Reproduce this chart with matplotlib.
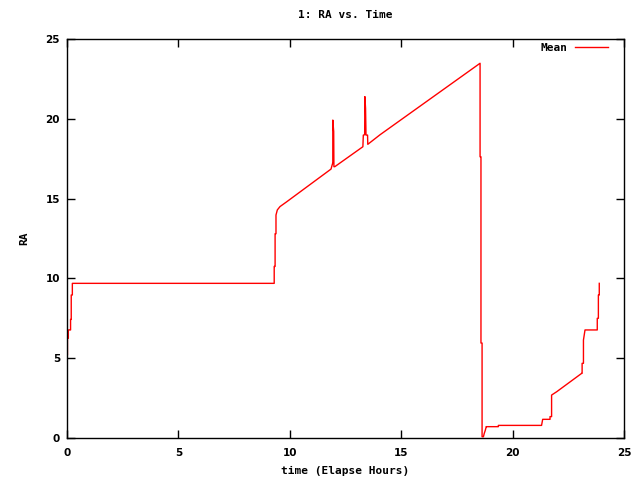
import matplotlib
matplotlib.use("Agg")
import matplotlib.pyplot as plt

time_h = [0.0, 0.0, 0.02, 0.02, 0.06, 0.06, 0.15, 0.16, 0.16, 0.19, 0.19, 0.24, 0.24,
          9.30, 9.30, 9.34, 9.34, 9.38, 9.38, 9.44, 9.56, 9.86,
          11.85, 11.92, 11.93, 11.93, 11.97, 11.98, 12.02,
          13.28, 13.30, 13.36, 13.37, 13.40, 13.42, 13.49, 13.50, 14.05,
          18.54, 18.54, 18.58, 18.58, 18.63, 18.63, 18.69, 18.73, 18.77, 18.81, 18.81,
          19.36, 19.36, 21.30, 21.35, 21.35, 21.68, 21.68, 21.75, 21.75, 21.98,
          23.10, 23.12, 23.12, 23.18, 23.18, 23.25, 23.80, 23.80, 23.85, 23.85, 23.89, 23.89]
ra = [4.78, 5.2, 5.2, 6.25, 6.25, 6.77, 6.77, 6.77, 7.43, 7.43, 8.96, 8.96, 9.69,
      9.69, 10.75, 10.75, 12.8, 12.8, 13.97, 14.29, 14.5, 14.8,
      16.85, 17.2, 17.2, 19.92, 19.2, 17.0, 17.0,
      18.25, 18.98, 19.0, 21.39, 20.65, 18.98, 18.98, 18.4, 19.0,
      23.48, 17.62, 17.62, 5.95, 5.95, 0.08, 0.08, 0.3, 0.46, 0.67, 0.71,
      0.71, 0.79, 0.79, 1.17, 1.17, 1.17, 1.34, 1.34, 2.69, 2.9,
      4.05, 4.05, 4.68, 4.68, 6.14, 6.77, 6.77, 7.5, 7.5, 8.96, 8.96, 9.69]

x_ticks = [0, 5, 10, 15, 20, 25]
y_ticks = [0, 5, 10, 15, 20, 25]

fig = plt.figure(figsize=(6.4, 4.8), dpi=100)
ax = fig.add_axes([67/640, 42/480, (624-67)/640, (438-39)/480])
ax.plot(time_h, ra, color='#ff0000', linewidth=1.0, label='Mean')
ax.set_xlim(0, 25)
ax.set_ylim(0, 25)
ax.set_xticks(x_ticks)
ax.set_yticks(y_ticks)
tickfont = dict(family='DejaVu Sans', weight='bold', size=7.5)
ax.set_xticklabels([str(v) for v in x_ticks], **tickfont)
ax.set_yticklabels([str(v) for v in y_ticks], **tickfont)
ax.tick_params(axis='x', direction='in', length=6, width=1, top=True, pad=7)
ax.tick_params(axis='y', direction='in', length=6, width=1, right=True, pad=5)
for s in ax.spines.values():
    s.set_linewidth(1.0)
mono = dict(family='DejaVu Sans Mono', weight='bold', size=8)
ax.set_title('1: RA vs. Time', pad=15, **mono)
ax.set_xlabel('time (Elapse Hours)', labelpad=6, **mono)
ax.set_ylabel('RA', labelpad=12, **mono)
leg = ax.legend(loc='center right', bbox_to_anchor=((608-67)/557, (438-48)/399),
                frameon=False, prop=dict(family='DejaVu Sans Mono', weight='bold', size=8),
                handlelength=3.0, markerfirst=False, borderaxespad=0, borderpad=0,
                handletextpad=0.65)
fig.savefig('out.png', dpi=100)
